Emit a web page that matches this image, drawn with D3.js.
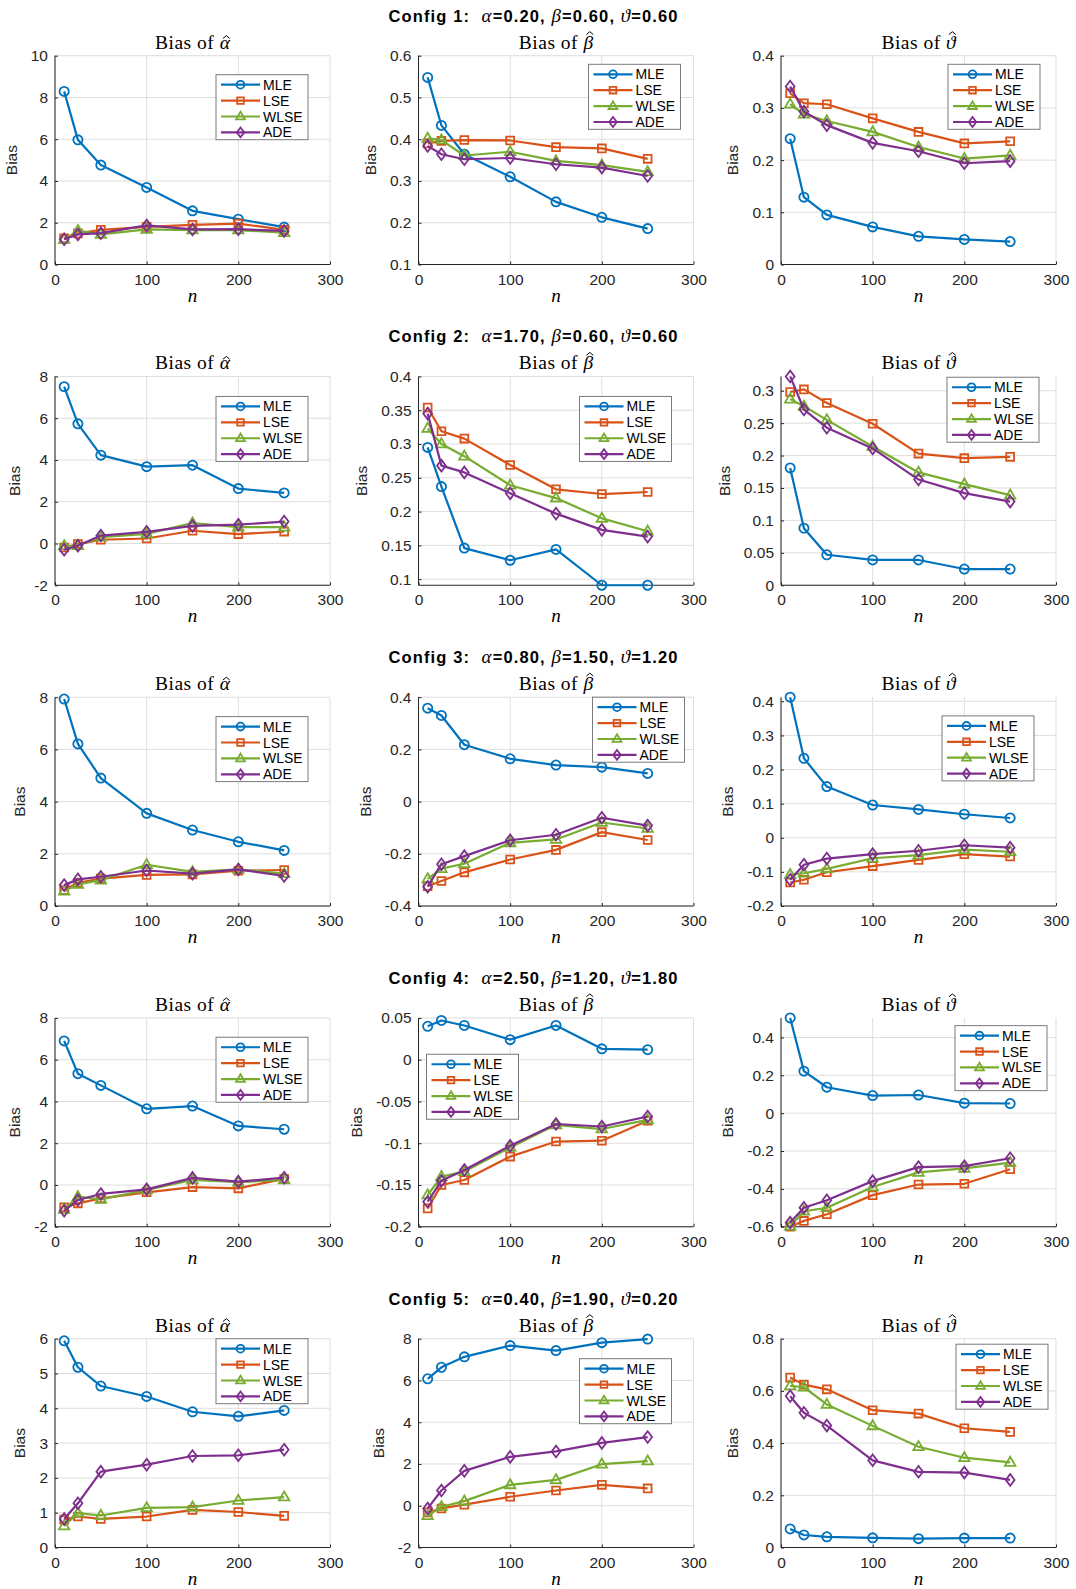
<!DOCTYPE html>
<html>
<head>
<meta charset="utf-8">
<script src="https://cdn.jsdelivr.net/npm/d3@7/dist/d3.min.js"></script>
<style>
  body { margin: 0; background: #fff; }
  svg text { white-space: pre; }
</style>
</head>
<body>
<svg id="fig" width="1076" height="1589"></svg>
<script>
// sample sizes (x axis)
var nVals = [10, 25, 50, 100, 150, 200, 250];
var estimators = ["MLE", "LSE", "WLSE", "ADE"];
var paramNames = ["alpha", "beta", "theta"];

var configLabels = [
  ["0.20", "0.60", "0.60"],
  ["1.70", "0.60", "0.60"],
  ["0.80", "1.50", "1.20"],
  ["2.50", "1.20", "1.80"],
  ["0.40", "1.90", "0.20"]
];

// bias values, one row per estimator: MLE, LSE, WLSE, ADE
var c1Alpha = [
  [8.29, 5.97, 4.76, 3.69, 2.57, 2.17, 1.79],
  [1.25, 1.49, 1.66, 1.80, 1.90, 1.96, 1.66],
  [1.20, 1.62, 1.44, 1.68, 1.65, 1.65, 1.52],
  [1.21, 1.44, 1.50, 1.87, 1.68, 1.69, 1.61]
];
var c1Beta = [
  [0.548, 0.433, 0.364, 0.310, 0.250, 0.213, 0.186],
  [0.390, 0.396, 0.398, 0.397, 0.381, 0.378, 0.353],
  [0.402, 0.398, 0.361, 0.370, 0.348, 0.338, 0.322],
  [0.384, 0.364, 0.352, 0.355, 0.340, 0.332, 0.312]
];
var c1Theta = [
  [0.241, 0.129, 0.095, 0.072, 0.054, 0.048, 0.044],
  [0.328, 0.309, 0.307, 0.280, 0.254, 0.232, 0.236],
  [0.307, 0.288, 0.275, 0.254, 0.225, 0.203, 0.209],
  [0.341, 0.293, 0.267, 0.233, 0.217, 0.194, 0.198]
];

var c2Alpha = [
  [7.51, 5.73, 4.23, 3.68, 3.75, 2.63, 2.42],
  [-0.19, -0.03, 0.18, 0.24, 0.61, 0.45, 0.57],
  [-0.11, -0.10, 0.30, 0.46, 0.98, 0.78, 0.78],
  [-0.30, -0.11, 0.38, 0.56, 0.84, 0.90, 1.05]
];
var c2Beta = [
  [0.295, 0.237, 0.146, 0.128, 0.144, 0.091, 0.091],
  [0.354, 0.319, 0.308, 0.269, 0.233, 0.226, 0.229],
  [0.323, 0.300, 0.282, 0.239, 0.220, 0.190, 0.171],
  [0.345, 0.268, 0.258, 0.227, 0.197, 0.173, 0.163]
];
var c2Theta = [
  [0.181, 0.088, 0.047, 0.039, 0.039, 0.025, 0.025],
  [0.298, 0.302, 0.281, 0.249, 0.203, 0.196, 0.198],
  [0.287, 0.276, 0.255, 0.214, 0.174, 0.156, 0.139],
  [0.322, 0.271, 0.243, 0.211, 0.163, 0.142, 0.129]
];

var c3Alpha = [
  [7.93, 6.21, 4.90, 3.55, 2.91, 2.46, 2.13],
  [0.61, 0.89, 1.05, 1.19, 1.21, 1.35, 1.38],
  [0.57, 0.83, 0.99, 1.58, 1.31, 1.40, 1.24],
  [0.80, 1.02, 1.12, 1.36, 1.24, 1.40, 1.15]
];
var c3Beta = [
  [0.358, 0.330, 0.218, 0.164, 0.140, 0.132, 0.108],
  [-0.324, -0.304, -0.271, -0.222, -0.185, -0.117, -0.147],
  [-0.296, -0.257, -0.238, -0.158, -0.145, -0.080, -0.103],
  [-0.326, -0.240, -0.209, -0.148, -0.127, -0.062, -0.092]
];
var c3Theta = [
  [0.412, 0.233, 0.150, 0.096, 0.083, 0.069, 0.058],
  [-0.131, -0.123, -0.101, -0.083, -0.065, -0.048, -0.055],
  [-0.108, -0.104, -0.091, -0.060, -0.051, -0.035, -0.041],
  [-0.123, -0.079, -0.061, -0.048, -0.038, -0.022, -0.029]
];

var c4Alpha = [
  [6.90, 5.33, 4.77, 3.65, 3.78, 2.83, 2.67],
  [-1.07, -0.88, -0.64, -0.35, -0.10, -0.16, 0.29],
  [-1.17, -0.56, -0.69, -0.24, 0.24, 0.13, 0.24],
  [-1.23, -0.72, -0.43, -0.21, 0.34, 0.16, 0.35]
];
var c4Beta = [
  [0.040, 0.047, 0.041, 0.024, 0.041, 0.013, 0.012],
  [-0.178, -0.150, -0.144, -0.116, -0.098, -0.097, -0.073],
  [-0.162, -0.140, -0.134, -0.105, -0.078, -0.083, -0.072],
  [-0.170, -0.145, -0.132, -0.103, -0.077, -0.080, -0.068]
];
var c4Theta = [
  [0.503, 0.222, 0.137, 0.093, 0.096, 0.053, 0.051],
  [-0.600, -0.569, -0.534, -0.433, -0.377, -0.373, -0.296],
  [-0.597, -0.518, -0.500, -0.390, -0.313, -0.292, -0.261],
  [-0.578, -0.500, -0.460, -0.359, -0.285, -0.280, -0.238]
];

var c5Alpha = [
  [5.94, 5.18, 4.64, 4.34, 3.90, 3.77, 3.94],
  [0.80, 0.89, 0.82, 0.89, 1.08, 1.02, 0.91],
  [0.62, 0.99, 0.92, 1.14, 1.16, 1.35, 1.45],
  [0.82, 1.27, 2.18, 2.38, 2.63, 2.65, 2.81]
];
var c5Beta = [
  [6.08, 6.63, 7.13, 7.67, 7.43, 7.81, 7.98],
  [-0.32, -0.13, 0.05, 0.43, 0.73, 1.00, 0.83],
  [-0.48, -0.05, 0.22, 1.00, 1.24, 1.99, 2.14],
  [-0.13, 0.73, 1.67, 2.34, 2.60, 3.01, 3.29]
];
var c5Theta = [
  [0.071, 0.048, 0.041, 0.037, 0.034, 0.036, 0.036],
  [0.651, 0.624, 0.606, 0.526, 0.513, 0.457, 0.443],
  [0.619, 0.614, 0.548, 0.466, 0.386, 0.344, 0.326],
  [0.580, 0.516, 0.467, 0.334, 0.290, 0.287, 0.259]
];

var panelData = [
  [c1Alpha, c1Beta, c1Theta],
  [c2Alpha, c2Beta, c2Theta],
  [c3Alpha, c3Beta, c3Theta],
  [c4Alpha, c4Beta, c4Theta],
  [c5Alpha, c5Beta, c5Theta]
];

// y axis limits and tick labels
var yLimits = [
  [[0, 10], [0.1, 0.6], [0, 0.4]],
  [[-2, 8], [0.091, 0.4], [0, 0.322]],
  [[0, 8], [-0.4, 0.4], [-0.2, 0.412]],
  [[-2, 8], [-0.2, 0.05], [-0.6, 0.503]],
  [[0, 6], [-2, 8], [0, 0.8]]
];
var yTicks = [
  [[0, 2, 4, 6, 8, 10], [0.1, 0.2, 0.3, 0.4, 0.5, 0.6], [0, 0.1, 0.2, 0.3, 0.4]],
  [[-2, 0, 2, 4, 6, 8], [0.1, 0.15, 0.2, 0.25, 0.3, 0.35, 0.4], [0, 0.05, 0.1, 0.15, 0.2, 0.25, 0.3]],
  [[0, 2, 4, 6, 8], [-0.4, -0.2, 0, 0.2, 0.4], [-0.2, -0.1, 0, 0.1, 0.2, 0.3, 0.4]],
  [[-2, 0, 2, 4, 6, 8], [-0.2, -0.15, -0.1, -0.05, 0, 0.05], [-0.6, -0.4, -0.2, 0, 0.2, 0.4]],
  [[0, 1, 2, 3, 4, 5, 6], [-2, 0, 2, 4, 6, 8], [0, 0.2, 0.4, 0.6, 0.8]]
];
var xTicks = [0, 100, 200, 300];

// legend box offsets inside each axes (layout only)
var legendPos = [
  [[161, 19], [170, 8.6], [167, 8.6]],
  [[161, 20], [161, 20], [166, 0.8]],
  [[161, 19.4], [174, 0], [161, 18.7]],
  [[161, 19.3], [8, 36.3], [174, 7.7]],
  [[161, 0], [161, 20], [175, 5.5]]
];

var colors = ["#0072BD", "#D95319", "#77AC30", "#7E2F8E"];
var markerPaths = [
  function (s) { var r = 4.6 * s; return "M" + (-r) + ",0a" + r + "," + r + " 0 1,0 " + (2 * r) + ",0a" + r + "," + r + " 0 1,0 " + (-2 * r) + ",0Z"; },
  function (s) { var h = 3.9 * s; return "M" + (-h) + "," + (-h) + "H" + h + "V" + h + "H" + (-h) + "Z"; },
  function (s) { return "M0," + (-5.6 * s) + "L" + (5.2 * s) + "," + (3.4 * s) + "H" + (-5.2 * s) + "Z"; },
  function (s) { return "M0," + (-5.8 * s) + "L" + (4.4 * s) + ",0L0," + (5.8 * s) + "L" + (-4.4 * s) + ",0Z"; }
];

var axesLeft = [55, 418.5, 781];
var axesWidth = 275;
var axesHeight = 208.8;
var rowTop0 = 55.7;
var rowPitch = 320.75;

var sans = "'Liberation Sans', Arial, Helvetica, sans-serif";
var serif = "'Liberation Serif', 'DejaVu Serif', serif";
var axisColor = "#262626";
var gridColor = "#dedede";
var greek = { alpha: "\u03b1", beta: "\u03b2", theta: "\u03d1" };

var svg = d3.select("#fig");

function drawConfigTitle(row, top) {
  var labels = configLabels[row];
  var t = svg.append("text")
    .attr("x", 533)
    .attr("y", top - 34)
    .attr("text-anchor", "middle")
    .attr("font-family", sans)
    .attr("font-weight", "bold")
    .attr("font-size", 16.5)
    .attr("fill", "#000");
  t.append("tspan").text("Config " + (row + 1) + ":  ");
  paramNames.forEach(function (p, i) {
    t.append("tspan")
      .attr("font-family", serif)
      .attr("font-style", "italic")
      .attr("font-weight", "normal")
      .attr("font-size", 19)
      .text(greek[p]);
    t.append("tspan").text("=" + labels[i] + (i < 2 ? ", " : ""));
  });
  t.attr("textLength", 289).attr("lengthAdjust", "spacing");
}

function drawPanelTitle(x0, top, param) {
  var g = svg.append("g");
  var fs = 19.5;
  var a = g.append("text")
    .attr("font-family", serif)
    .attr("font-size", fs)
    .attr("letter-spacing", 0.5)
    .attr("fill", "#000")
    .text("Bias of ");
  var b = g.append("text")
    .attr("font-family", serif)
    .attr("font-size", fs)
    .attr("font-style", "italic")
    .attr("fill", "#000")
    .text(greek[param]);
  var wa = a.node().getComputedTextLength();
  var wb = b.node().getComputedTextLength();
  var start = x0 + axesWidth / 2 - (wa + wb) / 2;
  var base = top - 7;
  a.attr("x", start).attr("y", base);
  b.attr("x", start + wa).attr("y", base);
  // hat accent over the symbol
  var cx = start + wa + wb / 2 + 1.5;
  var hy = param === "alpha" ? base - 13 : base - 17;
  g.append("path")
    .attr("d", "M" + (cx - 3.4) + "," + (hy + 2.8) + "L" + cx + "," + hy + "L" + (cx + 3.4) + "," + (hy + 2.8))
    .attr("fill", "none")
    .attr("stroke", "#000")
    .attr("stroke-width", 1);
}

function drawPanel(row, col) {
  var x0 = axesLeft[col];
  var top = rowTop0 + row * rowPitch;
  var series = panelData[row][col];

  var x = d3.scaleLinear().domain([0, 300]).range([x0, x0 + axesWidth]);
  var y = d3.scaleLinear().domain(yLimits[row][col]).range([top + axesHeight, top]);

  var g = svg.append("g");

  // grid
  g.selectAll(".gx").data(xTicks).enter().append("line")
    .attr("x1", function (d) { return x(d); }).attr("x2", function (d) { return x(d); })
    .attr("y1", top).attr("y2", top + axesHeight)
    .attr("stroke", gridColor).attr("stroke-width", 1);
  g.selectAll(".gy").data(yTicks[row][col]).enter().append("line")
    .attr("x1", x0).attr("x2", x0 + axesWidth)
    .attr("y1", function (d) { return y(d); }).attr("y2", function (d) { return y(d); })
    .attr("stroke", gridColor).attr("stroke-width", 1);

  // axes
  var xAxis = d3.axisBottom(x).tickValues(xTicks).tickSize(-3).tickPadding(9).tickFormat(d3.format("d"));
  var yAxis = d3.axisLeft(y).tickValues(yTicks[row][col]).tickSize(-3).tickPadding(7).tickFormat(function (d) { return String(d); });

  var gx = g.append("g").attr("transform", "translate(0," + (top + axesHeight) + ")").call(xAxis);
  var gy = g.append("g").attr("transform", "translate(" + x0 + ",0)").call(yAxis);
  [gx, gy].forEach(function (ax) {
    ax.select(".domain").attr("stroke", axisColor).attr("stroke-width", 1);
    ax.selectAll(".tick line").attr("stroke", axisColor);
    ax.selectAll("text").attr("font-family", sans).attr("font-size", 15.5).attr("fill", axisColor);
  });
  gx.select(".domain").attr("d", "M" + x0 + ",0H" + (x0 + axesWidth));
  gy.select(".domain").attr("d", "M0," + (top + axesHeight) + "V" + top);

  var maxW = 0;
  gy.selectAll("text").each(function () { maxW = Math.max(maxW, this.getComputedTextLength()); });

  // labels
  svg.append("text")
    .attr("transform", "translate(" + (x0 - 10 - maxW - 11) + "," + (top + axesHeight / 2) + ") rotate(-90)")
    .attr("text-anchor", "middle")
    .attr("font-family", sans)
    .attr("font-size", 15.5)
    .attr("fill", axisColor)
    .text("Bias");
  svg.append("text")
    .attr("x", x0 + axesWidth / 2)
    .attr("y", top + axesHeight + 37)
    .attr("text-anchor", "middle")
    .attr("font-family", serif)
    .attr("font-style", "italic")
    .attr("font-size", 19)
    .attr("fill", "#000")
    .text("n");
  drawPanelTitle(x0, top, paramNames[col]);

  // series
  var line = d3.line().x(function (d, i) { return x(nVals[i]); }).y(function (d) { return y(d); });
  series.forEach(function (vals, k) {
    var sg = g.append("g");
    sg.append("path")
      .attr("d", line(vals))
      .attr("fill", "none")
      .attr("stroke", colors[k])
      .attr("stroke-width", 2.2)
      .attr("stroke-linejoin", "round");
    sg.selectAll(".m").data(vals).enter().append("path")
      .attr("transform", function (d, i) { return "translate(" + x(nVals[i]) + "," + y(d) + ")"; })
      .attr("d", markerPaths[k](1))
      .attr("fill", "none")
      .attr("stroke", colors[k])
      .attr("stroke-width", 1.8);
  });

  // legend
  var lp = legendPos[row][col];
  var lg = svg.append("g").attr("transform", "translate(" + (x0 + lp[0]) + "," + (top + lp[1]) + ")");
  lg.append("rect")
    .attr("width", 92).attr("height", 65)
    .attr("fill", "#fff")
    .attr("stroke", "#7a7a7a")
    .attr("stroke-width", 1);
  estimators.forEach(function (name, k) {
    var ey = 10 + k * 15.9;
    lg.append("line")
      .attr("x1", 5).attr("x2", 44).attr("y1", ey).attr("y2", ey)
      .attr("stroke", colors[k]).attr("stroke-width", 2.2);
    lg.append("path")
      .attr("transform", "translate(24.5," + ey + ")")
      .attr("d", markerPaths[k](0.85))
      .attr("fill", "none")
      .attr("stroke", colors[k])
      .attr("stroke-width", 1.8);
    lg.append("text")
      .attr("x", 47).attr("y", ey)
      .attr("dy", "0.36em")
      .attr("font-family", sans)
      .attr("font-size", 14)
      .attr("fill", "#000")
      .text(name);
  });
}

for (var r = 0; r < 5; r++) {
  drawConfigTitle(r, rowTop0 + r * rowPitch);
  for (var c = 0; c < 3; c++) {
    drawPanel(r, c);
  }
}
</script>
</body>
</html>
